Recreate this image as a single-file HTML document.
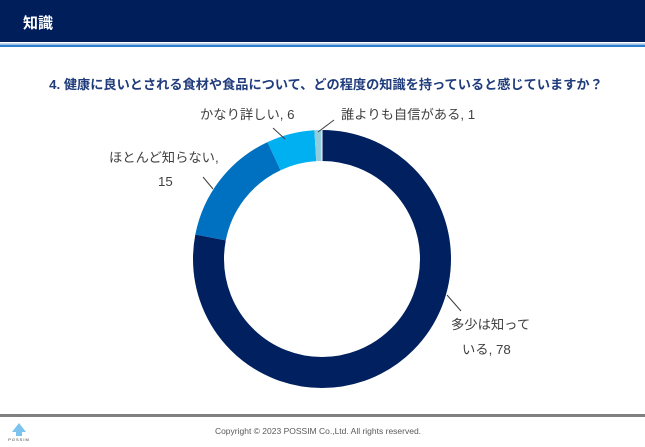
<!DOCTYPE html>
<html><head><meta charset="utf-8"><style>
body{margin:0;width:645px;height:447px;background:#fff;overflow:hidden;font-family:"Liberation Sans","Noto Sans CJK JP",sans-serif;}
</style></head><body>
<svg width="645" height="447" xmlns="http://www.w3.org/2000/svg" style="position:absolute;left:0;top:0">
<rect x="0" y="0" width="645" height="42" fill="#001e5a"/>
<rect x="0" y="43" width="645" height="1" fill="#c8d8ea"/>
<rect x="0" y="44.5" width="645" height="2.5" fill="#2f7fd0"/>
<text x="23" y="28" font-size="15" font-weight="bold" fill="#fff" font-family="Liberation Sans, Noto Sans CJK JP, sans-serif">知識</text>
<text x="326" y="89" font-size="13.2" font-weight="bold" fill="#203c7c" text-anchor="middle" font-family="Liberation Sans, Noto Sans CJK JP, sans-serif">4. 健康に良いとされる食材や食品について、どの程度の知識を持っていると感じていますか？</text>
<g transform="rotate(-90 322 259)" fill="none" stroke-width="31">
<circle cx="322" cy="259" r="113.5" stroke="#002060" stroke-dasharray="556.3 1000"/>
<circle cx="322" cy="259" r="113.5" stroke="#0070c0" stroke-dasharray="0 556.3 107 1000"/>
<circle cx="322" cy="259" r="113.5" stroke="#00b0f0" stroke-dasharray="0 663.3 42.8 1000"/>
<circle cx="322" cy="259" r="113.5" stroke="#92cddc" stroke-dasharray="0 706.1 7.1 1000"/>
</g>
<g stroke="#fff" stroke-width="1">
<line x1="322" y1="128" x2="322" y2="163"/>
</g>
<g stroke="#404040" stroke-width="1">
<line x1="273" y1="128" x2="285" y2="139"/>
<line x1="334" y1="120" x2="318" y2="132"/>
<line x1="203" y1="177" x2="213" y2="189"/>
<line x1="447" y1="295" x2="461" y2="311"/>
</g>
<g font-size="13.3" fill="#404040" font-family="Liberation Sans, Noto Sans CJK JP, sans-serif">
<text x="200" y="119">かなり詳しい, 6</text>
<text x="341" y="119">誰よりも自信がある, 1</text>
<text x="109" y="162">ほとんど知らない,</text>
<text x="158" y="186">15</text>
<text x="451" y="329">多少は知って</text>
<text x="462" y="354">いる, 78</text>
</g>
<rect x="0" y="414" width="645" height="3" fill="#808080"/>
<polygon points="19,423 12,432 16,432 16,436 22,436 22,432 26,432" fill="#7cc4ef"/>
<text x="19" y="441" font-size="4" fill="#333" text-anchor="middle" letter-spacing="1">POSSIM</text>
<text x="318" y="434" font-size="8.5" fill="#595959" text-anchor="middle">Copyright © 2023 POSSIM Co.,Ltd. All rights reserved.</text>
</svg>
</body></html>
